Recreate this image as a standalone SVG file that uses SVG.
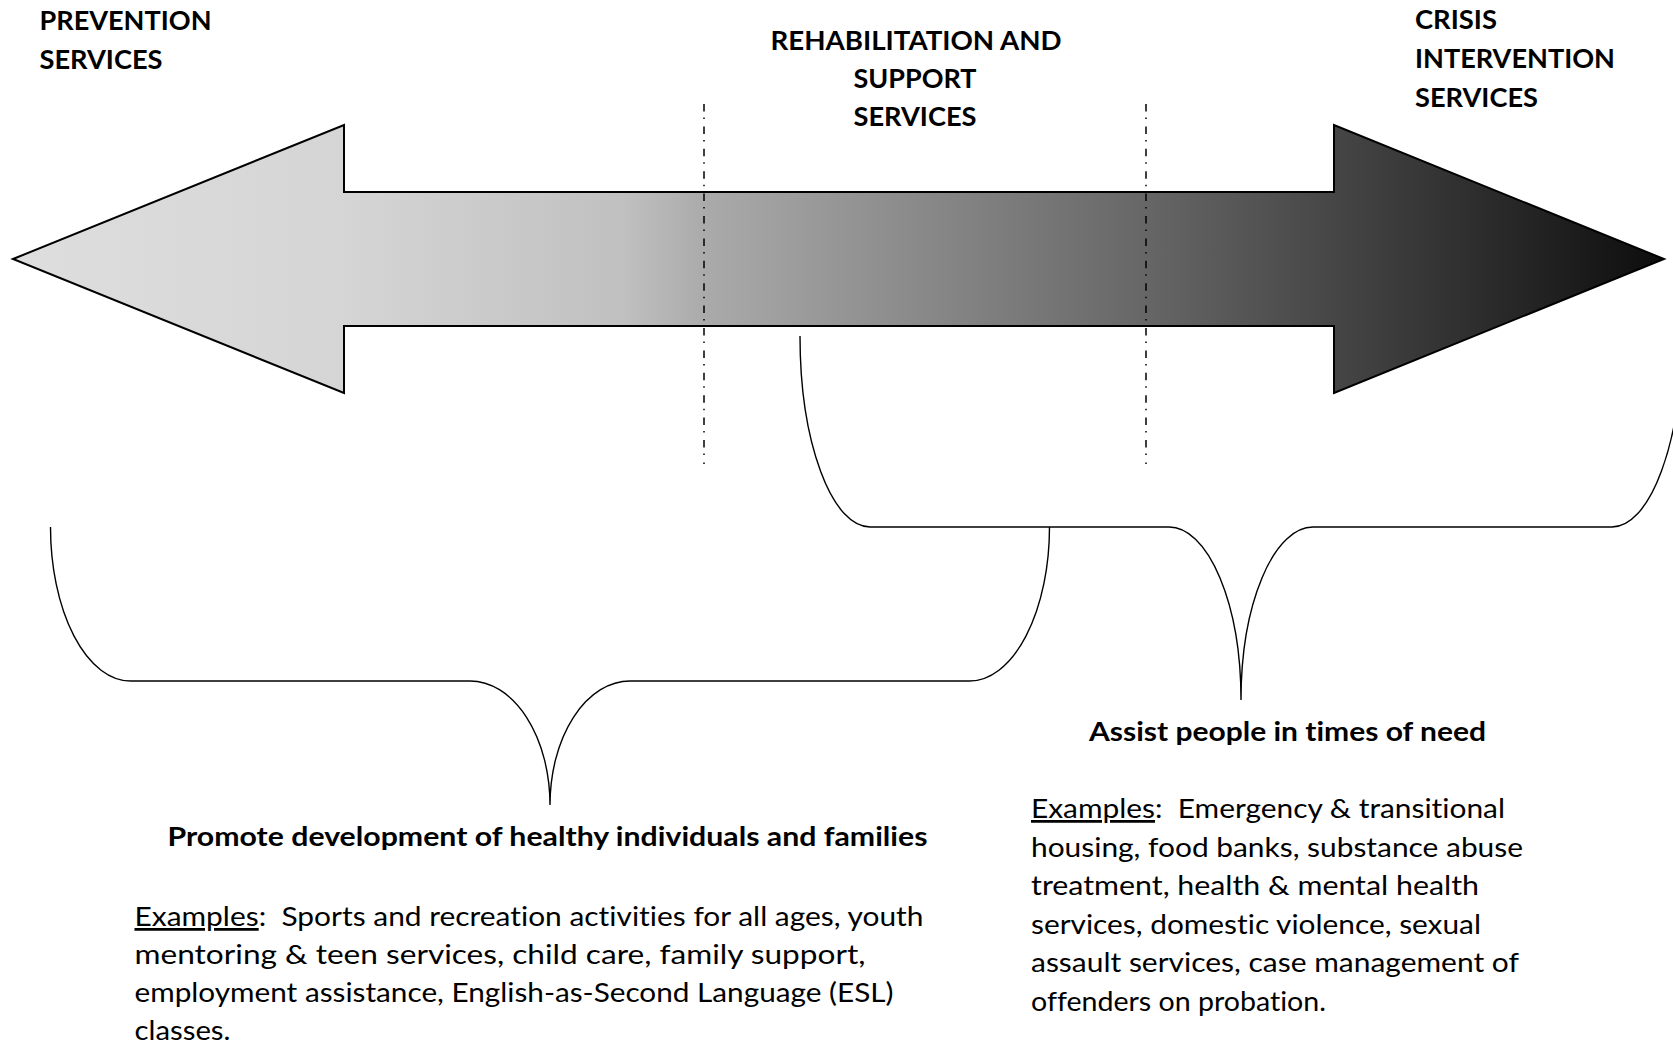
<svg xmlns="http://www.w3.org/2000/svg" width="1673" height="1044" viewBox="0 0 1673 1044">
<defs>
<linearGradient id="arrowGrad" gradientUnits="userSpaceOnUse" x1="13" y1="0" x2="1664" y2="0">
<stop offset="0" stop-color="#dedede"/>
<stop offset="0.2" stop-color="#d5d5d5"/>
<stop offset="0.37" stop-color="#c0c0c0"/>
<stop offset="0.42" stop-color="#aaaaaa"/>
<stop offset="0.68" stop-color="#686868"/>
<stop offset="0.8" stop-color="#464646"/>
<stop offset="1" stop-color="#0d0d0d"/>
</linearGradient>
<style>
text{font-variant-ligatures:none;white-space:pre;fill:#000;font-family:Lato,"Open Sans","Liberation Sans",sans-serif}
.hdr{font-weight:bold;font-size:27px}
.ttl{font-weight:bold;font-size:27.5px}
.body{font-size:27.5px}
.brace{fill:none;stroke:#000;stroke-width:1.4}
.divider{fill:none;stroke:#000;stroke-width:1.5;stroke-dasharray:7.5 6 1.5 7.4}
</style>
</defs>
<rect width="1673" height="1044" fill="#fff"/>

<g id="arrow">
<polygon points="13,259 344,125 344,192 1334,192 1334,125 1664,259 1334,393 1334,326 344,326 344,393" fill="url(#arrowGrad)" stroke="#000" stroke-width="2" stroke-linejoin="miter"/>
</g>

<g id="connectors">
<line class="divider" x1="704" y1="104" x2="704" y2="464"/>
<line class="divider" x1="1146" y1="104" x2="1146" y2="464"/>
<path id="brace-prevention" class="brace" d="M50.5,527 A80,154 0 0 0 130.5,681 L470,681 A80,124 0 0 1 550,805 A80,124 0 0 1 630,681 L969.5,681 A80,154 0 0 0 1049.5,527"/>
<path id="brace-crisis" class="brace" d="M800,336 A70,191 0 0 0 870,527 L1169,527 A72,173 0 0 1 1241,700 A72,173 0 0 1 1313,527 L1612,527 A70,191 0 0 0 1682,336"/>
</g>

<g id="prevention-label">
<text class="hdr" x="39.5" y="30" textLength="172" lengthAdjust="spacingAndGlyphs">PREVENTION</text>
<text class="hdr" x="39.5" y="68.5" textLength="123" lengthAdjust="spacingAndGlyphs">SERVICES</text>
</g>

<g id="rehab-label">
<text class="hdr" x="770.5" y="49.5" textLength="291" lengthAdjust="spacingAndGlyphs">REHABILITATION AND</text>
<text class="hdr" x="853.5" y="88" textLength="123" lengthAdjust="spacingAndGlyphs">SUPPORT</text>
<text class="hdr" x="853.5" y="126" textLength="123" lengthAdjust="spacingAndGlyphs">SERVICES</text>
</g>

<g id="crisis-label">
<text class="hdr" x="1415" y="29" textLength="82" lengthAdjust="spacingAndGlyphs">CRISIS</text>
<text class="hdr" x="1415" y="68" textLength="200" lengthAdjust="spacingAndGlyphs">INTERVENTION</text>
<text class="hdr" x="1415" y="107" textLength="123" lengthAdjust="spacingAndGlyphs">SERVICES</text>
</g>

<g id="prevention-description">
<text class="ttl" x="167.5" y="846" textLength="760" lengthAdjust="spacingAndGlyphs">Promote development of healthy individuals and families</text>
<text class="body" x="134.5" y="926" textLength="789" lengthAdjust="spacingAndGlyphs"><tspan text-decoration="underline">Examples</tspan>:  Sports and recreation activities for all ages, youth</text>
<text class="body" x="134.5" y="964" textLength="731" lengthAdjust="spacingAndGlyphs">mentoring &amp; teen services, child care, family support,</text>
<text class="body" x="134.5" y="1001.5" textLength="759" lengthAdjust="spacingAndGlyphs">employment assistance, English-as-Second Language (ESL)</text>
<text class="body" x="134.5" y="1039.5" textLength="96" lengthAdjust="spacingAndGlyphs">classes.</text>
</g>

<g id="crisis-description">
<text class="ttl" x="1089" y="741" textLength="397" lengthAdjust="spacingAndGlyphs">Assist people in times of need</text>
<text class="body" x="1031" y="818" textLength="474" lengthAdjust="spacingAndGlyphs"><tspan text-decoration="underline">Examples</tspan>:  Emergency &amp; transitional</text>
<text class="body" x="1031" y="856.5" textLength="492" lengthAdjust="spacingAndGlyphs">housing, food banks, substance abuse</text>
<text class="body" x="1031" y="895" textLength="448" lengthAdjust="spacingAndGlyphs">treatment, health &amp; mental health</text>
<text class="body" x="1031" y="933.5" textLength="450" lengthAdjust="spacingAndGlyphs">services, domestic violence, sexual</text>
<text class="body" x="1031" y="972" textLength="488" lengthAdjust="spacingAndGlyphs">assault services, case management of</text>
<text class="body" x="1031" y="1010.5" textLength="295" lengthAdjust="spacingAndGlyphs">offenders on probation.</text>
</g>
</svg>
